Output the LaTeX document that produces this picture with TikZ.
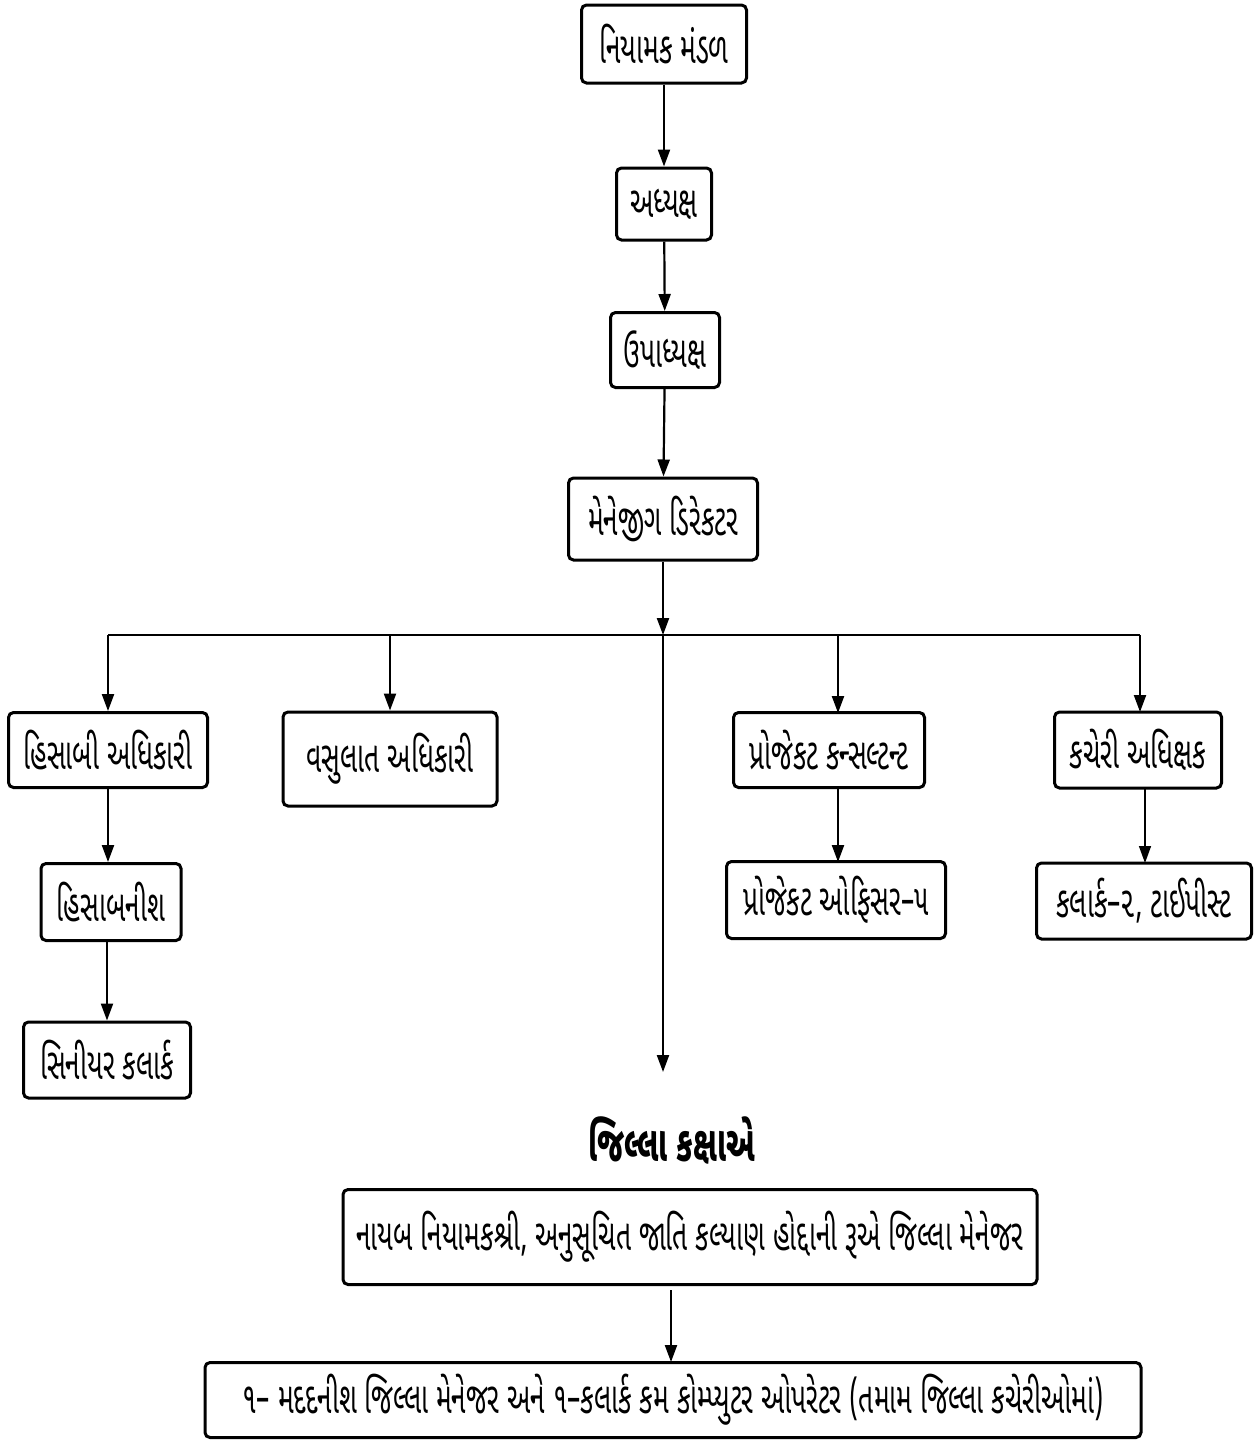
\documentclass[tikz,border=0pt]{standalone}
\usepackage{fontspec}
\newfontfamily\guj[Script=Gujarati]{Noto Sans Gujarati UI}
\usetikzlibrary{arrows.meta}
\newcommand{\gt}[1]{\scalebox{0.6}[1]{#1}}
\begin{document}
\begin{tikzpicture}[x=1pt,y=-1pt,
  box/.style={draw, line width=3pt, rounded corners=5pt, inner sep=0pt, align=center,
    font=\guj\fontsize{44}{50}\selectfont},
  arr/.style={line width=2.2pt, -{Triangle[length=17pt,width=12pt]}},
  ln/.style={line width=2.2pt}]
\useasboundingbox (0,0) rectangle (1259,1441);
\node[box, minimum width=165pt, minimum height=78pt] (a) at (664,44) {\gt{નિયામક મંડળ}};
\node[box, minimum width=95pt, minimum height=72pt] (b) at (664,204) {\gt{અધ્યક્ષ}};
\node[box, minimum width=109pt, minimum height=75pt] (c) at (665,350) {\gt{ઉપાધ્યક્ષ}};
\node[box, minimum width=189pt, minimum height=82pt] (d) at (663,519) {\gt{મેનેજીગ ડિરેકટર}};
\node[box, minimum width=199pt, minimum height=75pt] (e) at (108,750) {\gt{હિસાબી અધિકારી}};
\node[box, minimum width=214pt, minimum height=94pt] (f) at (390,759) {\gt{વસુલાત અધિકારી}};
\node[box, minimum width=191pt, minimum height=75pt] (g) at (829,750) {\gt{પ્રોજેકટ કન્સલ્ટન્ટ}};
\node[box, minimum width=167pt, minimum height=76pt] (h) at (1138,750) {\gt{કચેરી અધિક્ષક}};
\node[box, minimum width=140pt, minimum height=77pt] (i) at (111,902) {\gt{હિસાબનીશ}};
\node[box, minimum width=167pt, minimum height=76pt] (j) at (107,1060) {\gt{સિનીયર કલાર્ક}};
\node[box, minimum width=219pt, minimum height=77pt] (k) at (836,900) {\gt{પ્રોજેકટ ઓફિસર–૫}};
\node[box, minimum width=215pt, minimum height=76pt] (l) at (1144,901) {\gt{કલાર્ક–૨, ટાઈપીસ્ટ}};
\node[font=\guj\bfseries\fontsize{50}{56}\selectfont] (t) at (672,1140) {\gt{જિલ્લા કક્ષાએ}};
\node[box, minimum width=694pt, minimum height=95pt] (m) at (690,1237) {\gt{નાયબ નિયામકશ્રી, અનુસૂચિત જાતિ કલ્યાણ હોદ્દાની રૂએ જિલ્લા મેનેજર}};
\node[box, minimum width=936pt, minimum height=75pt] (n) at (673,1400) {\gt{૧– મદદનીશ જિલ્લા મેનેજર અને ૧–કલાર્ક કમ કોમ્પ્યુટર ઓપરેટર (તમામ જિલ્લા કચેરીઓમાં)}};
\coordinate (jn) at (663,635);
\coordinate (jl) at (108,635);
\coordinate (jr) at (1140,635);
\coordinate (dn) at (663,1072);
\draw[arr] (a) -- (b);
\draw[arr] (b) -- (c);
\draw[arr] (c) -- (d);
\draw[arr] (d) -- (jn);
\draw[arr] (jn) -- (dn);
\draw[ln] (jl) -- (jr);
\draw[arr] (jl) -- (e.north);
\draw[arr] (390,635) -- (f.north);
\draw[arr] (838,635) -- (838,713);
\draw[arr] (jr) -- (1140,712);
\draw[arr] (e.south) -- (e.south |- i.north);
\draw[arr] (j.north |- i.south) -- (j.north);
\draw[arr] (838,788) -- (838,862);
\draw[arr, line width=1.4pt] (1145,788) -- (1145,863);
\draw[arr] (671,1290) -- (671,1362);
\end{tikzpicture}
\end{document}
